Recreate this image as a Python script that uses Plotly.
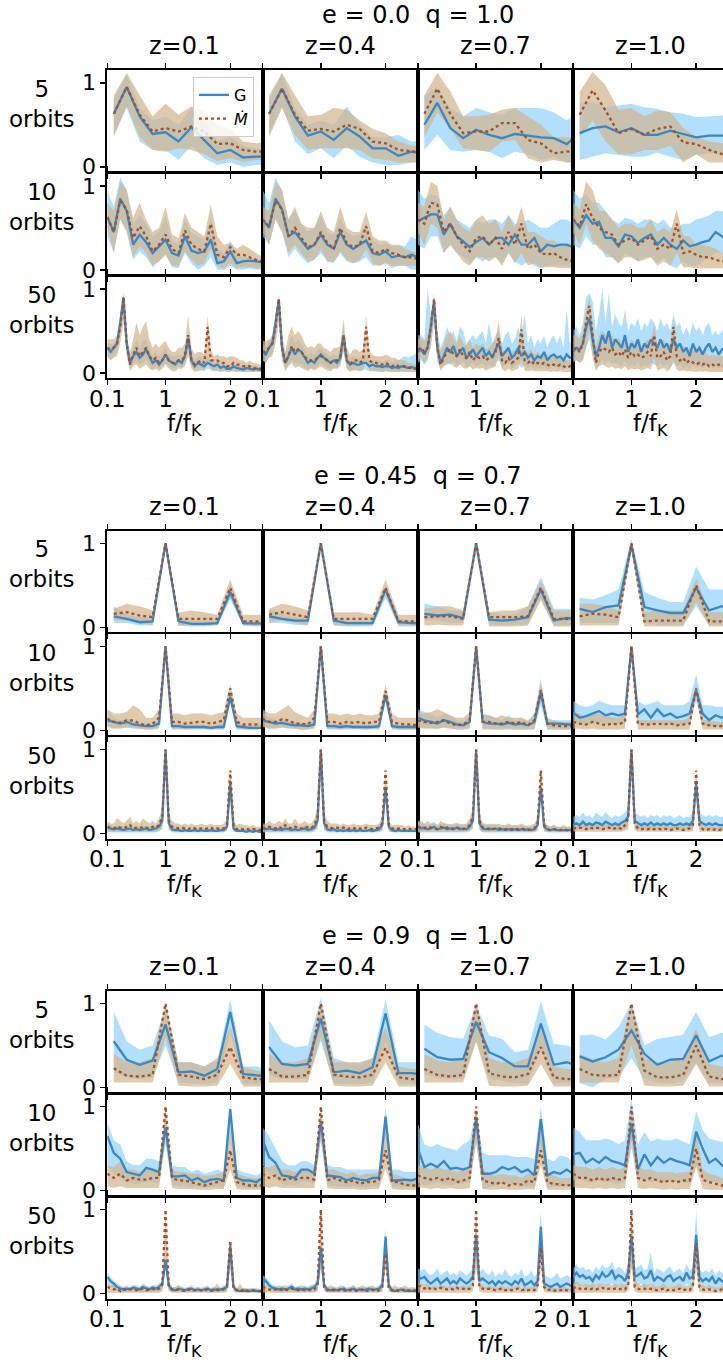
import plotly.graph_objects as go

# ---------------- frequency grids (f / f_K) ----------------
F5 = [0.2, 0.4, 0.6, 0.8, 1.0, 1.2, 1.4, 1.6, 1.8, 2.0, 2.2, 2.4, 2.6]
F10 = [0.1, 0.2, 0.3, 0.4, 0.5, 0.6, 0.7, 0.8, 0.9, 1.0, 1.1, 1.2, 1.3,
       1.4, 1.5, 1.6, 1.7, 1.8, 1.9, 2.0, 2.1, 2.2, 2.3, 2.4, 2.5]
F50 = [0.1, 0.15, 0.2, 0.25, 0.3, 0.35, 0.4, 0.45, 0.5, 0.55,
       0.6, 0.65, 0.7, 0.75, 0.8, 0.85, 0.9, 0.95, 1.0, 1.05,
       1.1, 1.15, 1.2, 1.25, 1.3, 1.35, 1.4, 1.45, 1.5, 1.55,
       1.6, 1.65, 1.7, 1.75, 1.8, 1.85, 1.9, 1.95, 2.0, 2.05,
       2.1, 2.15, 2.2, 2.25, 2.3, 2.35, 2.4, 2.45, 2.5]

BLOCK_TITLES = ["e = 0.0  q = 1.0", "e = 0.45  q = 0.7", "e = 0.9  q = 1.0"]
ROW_LABELS = ["5<br>orbits", "10<br>orbits", "50<br>orbits"]
COL_TITLES = ["z=0.1", "z=0.4", "z=0.7", "z=1.0"]
X_TICKS = [0.1, 1, 2]
X_TICKTEXT = ["0.1", "1", "2"]
Y_TICKS = [0, 1]
Y_TICKTEXT = ["0", "1"]

# =============== e = 0.0, q = 1.0 ===============
# ---- 5 orbits ----
E00_5_Z1_G = [.63, .95, .60, .39, .41, .30, .47, .32, .16, .20, .11, .12, .12]
E00_5_Z1_GLO = [.40, .70, .30, .20, .20, .08, .25, .10, .02, .05, .00, .02, .02]
E00_5_Z1_GHI = [.80, 1.10, .70, .55, .60, .50, .70, .55, .30, .35, .25, .22, .22]
E00_5_Z1_M = [.63, .95, .62, .42, .46, .42, .48, .42, .27, .28, .20, .18, .18]
E00_5_Z1_MLO = [.35, .72, .35, .20, .18, .22, .20, .15, .07, .10, .06, .08, .08]
E00_5_Z1_MHI = [.85, 1.12, .85, .60, .75, .62, .72, .65, .50, .45, .30, .28, .30]

E00_5_Z4_G = [.63, .93, .60, .37, .42, .32, .46, .36, .22, .22, .13, .18, .15]
E00_5_Z4_GLO = [.40, .72, .30, .15, .22, .10, .25, .12, .05, .02, .02, .05, .05]
E00_5_Z4_GHI = [.80, 1.10, .70, .50, .55, .50, .72, .50, .35, .35, .38, .30, .30]
E00_5_Z4_M = [.63, .93, .62, .43, .45, .42, .50, .45, .30, .28, .20, .18, .17]
E00_5_Z4_MLO = [.35, .70, .38, .20, .22, .22, .22, .20, .10, .08, .05, .05, .05]
E00_5_Z4_MHI = [.85, 1.12, .85, .60, .62, .70, .68, .55, .45, .40, .30, .25, .25]

E00_5_Z7_G = [.50, .76, .46, .34, .44, .38, .34, .39, .37, .35, .34, .27, .40]
E00_5_Z7_GLO = [.20, .38, .20, .18, .20, .18, .10, .18, .15, .08, .12, .05, .08]
E00_5_Z7_GHI = [.85, .95, .70, .60, .70, .65, .62, .70, .70, .70, .65, .55, .68]
E00_5_Z7_M = [.63, .93, .63, .40, .42, .42, .52, .52, .32, .28, .16, .18, .20]
E00_5_Z7_MLO = [.35, .65, .45, .22, .20, .18, .30, .32, .10, .05, .08, .05, .05]
E00_5_Z7_MHI = [.85, 1.12, .90, .60, .60, .62, .68, .70, .60, .50, .35, .35, .35]

E00_5_Z10_G = [.40, .46, .48, .41, .46, .38, .38, .43, .39, .35, .37, .37, .37]
E00_5_Z10_GLO = [.08, .12, .16, .14, .12, .12, .17, .12, .08, .14, .16, .14, .14]
E00_5_Z10_GHI = [.75, .77, .71, .73, .75, .71, .69, .65, .63, .59, .60, .61, .61]
E00_5_Z10_M = [.62, .91, .67, .40, .45, .38, .45, .48, .29, .27, .20, .15, .15]
E00_5_Z10_MLO = [.35, .55, .30, .15, .15, .20, .20, .25, .05, .15, .05, .05, .05]
E00_5_Z10_MHI = [.89, 1.13, .97, .68, .70, .60, .67, .65, .46, .36, .30, .28, .28]

# ---- 10 orbits ----
E00_10_Z1_G = [.63, .45, .85, .70, .30, .42, .33, .20, .28, .36, .20, .17, .40,
               .23, .20, .22, .36, .08, .10, .22, .08, .10, .11, .10, .09]
E00_10_Z1_GLO = [.40, .20, .62, .45, .12, .22, .15, .03, .10, .18, .03, .02, .20,
                 .08, .00, .05, .15, .00, .00, .05, .00, .00, .02, .00, .00]
E00_10_Z1_GHI = [.95, .75, 1.10, .95, .55, .65, .55, .40, .45, .65, .35, .30, .60,
                 .45, .40, .35, .62, .25, .20, .35, .20, .15, .15, .12, .12]
E00_10_Z1_M = [.63, .45, .82, .72, .38, .52, .40, .22, .30, .42, .25, .20, .47,
               .30, .25, .22, .55, .18, .15, .27, .18, .18, .15, .12, .10]
E00_10_Z1_MLO = [.50, .20, .60, .45, .15, .28, .20, .05, .10, .18, .05, .05, .22,
                 .12, .05, .08, .25, .05, .02, .08, .02, .03, .03, .02, .02]
E00_10_Z1_MHI = [.80, .70, 1.05, .95, .62, .80, .60, .45, .50, .75, .42, .38, .68,
                 .50, .45, .40, .78, .40, .30, .32, .25, .30, .25, .20, .15]

E00_10_Z4_G = [.60, .50, .85, .72, .40, .45, .35, .25, .30, .42, .30, .25, .45,
               .30, .25, .30, .35, .20, .18, .22, .15, .17, .15, .18, .15]
E00_10_Z4_GLO = [.40, .30, .60, .45, .15, .25, .15, .08, .12, .20, .10, .08, .20,
                 .10, .08, .10, .15, .05, .05, .08, .02, .05, .05, .00, .00]
E00_10_Z4_GHI = [.95, .80, 1.10, .95, .60, .70, .55, .45, .50, .65, .45, .42, .62,
                 .45, .40, .42, .55, .35, .30, .32, .28, .30, .28, .40, .35]
E00_10_Z4_M = [.60, .52, .82, .72, .40, .50, .38, .27, .30, .45, .32, .25, .50,
               .32, .27, .30, .52, .22, .20, .25, .20, .18, .15, .15, .13]
E00_10_Z4_MLO = [.45, .30, .60, .45, .20, .30, .20, .10, .12, .25, .10, .10, .22,
                 .12, .08, .12, .25, .08, .05, .08, .05, .05, .05, .05, .05]
E00_10_Z4_MHI = [.75, .70, 1.05, .95, .60, .75, .55, .50, .50, .70, .50, .45, .75,
                 .50, .45, .45, .70, .40, .35, .35, .30, .30, .25, .22, .20]

E00_10_Z7_G = [.58, .62, .66, .66, .42, .55, .40, .34, .27, .33, .38, .30, .38,
               .38, .30, .42, .30, .30, .38, .22, .30, .28, .30, .30, .27]
E00_10_Z7_GLO = [.30, .25, .40, .40, .20, .30, .20, .15, .08, .15, .10, .15, .15,
                 .08, .20, .10, .05, .10, .05, .02, .05, .05, .05, .05, .05]
E00_10_Z7_GHI = [.95, .85, .90, .88, .65, .75, .60, .55, .50, .60, .55, .60, .60,
                 .55, .65, .55, .55, .60, .55, .50, .50, .55, .60, .60, .55]
E00_10_Z7_M = [.60, .55, .80, .78, .45, .55, .40, .30, .22, .38, .40, .30, .38,
               .25, .45, .30, .55, .25, .30, .20, .18, .20, .15, .12, .10]
E00_10_Z7_MLO = [.45, .30, .55, .50, .20, .30, .20, .10, .05, .15, .15, .10, .15,
                 .05, .20, .08, .20, .05, .08, .03, .03, .03, .02, .02, .02]
E00_10_Z7_MHI = [.80, .75, 1.05, 1.00, .60, .75, .60, .50, .45, .60, .65, .55, .60,
                 .45, .65, .50, .75, .45, .45, .40, .35, .35, .30, .30, .25]

E00_10_Z10_G = [.60, .50, .65, .55, .57, .38, .38, .28, .42, .40, .32, .38, .42,
                .30, .38, .30, .25, .35, .28, .30, .33, .35, .45, .40, .35]
E00_10_Z10_GLO = [.30, .25, .40, .30, .30, .15, .15, .08, .20, .15, .10, .15, .15,
                  .08, .15, .05, .02, .10, .05, .05, .10, .15, .20, .20, .15]
E00_10_Z10_GHI = [.95, .85, .90, .80, .80, .70, .60, .55, .62, .60, .55, .60, .60,
                  .55, .60, .50, .50, .55, .55, .60, .62, .65, .70, .70, .65]
E00_10_Z10_M = [.60, .52, .78, .62, .50, .45, .42, .30, .35, .38, .30, .35, .40,
                .25, .30, .25, .55, .20, .22, .18, .15, .15, .12, .10, .10]
E00_10_Z10_MLO = [.45, .30, .55, .35, .25, .20, .15, .08, .15, .15, .10, .12, .15,
                  .05, .10, .05, .20, .03, .03, .02, .02, .02, .02, .02, .02]
E00_10_Z10_MHI = [.80, .72, 1.05, .95, .70, .70, .60, .50, .55, .55, .50, .50, .60,
                  .45, .50, .45, .72, .40, .40, .30, .30, .28, .25, .20, .20]

# ---- 50 orbits ----
E00_50_Z1_G = [.30, .25, .30, .35, .60, .90, .35, .12, .20, .25,
               .18, .22, .28, .20, .12, .15, .10, .15, .22, .15,
               .12, .10, .15, .12, .20, .42, .15, .08, .12, .10,
               .08, .12, .10, .08, .10, .06, .08, .05, .05, .08,
               .06, .05, .04, .06, .05, .04, .05, .04, .04]
E00_50_Z1_GLO = [.20, .15, .20, .25, .45, .75, .25, .05, .10, .15,
                 .10, .12, .15, .10, .05, .08, .05, .08, .12, .08,
                 .05, .05, .08, .06, .12, .30, .08, .03, .05, .05,
                 .03, .05, .04, .03, .04, .02, .03, .02, .02, .03,
                 .02, .02, .01, .02, .02, .01, .02, .01, .01]
E00_50_Z1_GHI = [.35, .35, .35, .40, .70, .97, .42, .20, .30, .40,
                 .30, .38, .40, .30, .20, .25, .20, .25, .30, .22,
                 .20, .20, .22, .20, .28, .50, .22, .15, .20, .18,
                 .15, .20, .15, .12, .15, .10, .12, .10, .10, .12,
                 .10, .08, .08, .10, .08, .08, .08, .07, .07]
E00_50_Z1_M = [.30, .28, .30, .35, .55, .90, .35, .10, .22, .30,
               .20, .25, .30, .20, .15, .18, .12, .15, .22, .15,
               .12, .12, .15, .15, .20, .45, .15, .10, .12, .15,
               .12, .55, .15, .15, .15, .12, .12, .08, .08, .12,
               .10, .10, .08, .08, .08, .05, .06, .05, .05]
E00_50_Z1_MLO = [.20, .15, .18, .20, .35, .60, .20, .02, .08, .10,
                 .05, .08, .10, .05, .03, .05, .02, .05, .10, .05,
                 .02, .02, .05, .05, .08, .20, .05, .01, .02, .03,
                 .02, .15, .03, .02, .02, .01, .02, .01, .01, .02,
                 .01, .01, .01, .01, .01, .01, .01, .01, .01]
E00_50_Z1_MHI = [.40, .40, .40, .45, .70, .92, .45, .25, .40, .60,
                 .45, .55, .62, .40, .30, .35, .30, .35, .38, .30,
                 .25, .25, .30, .30, .35, .68, .30, .22, .25, .25,
                 .22, .68, .28, .20, .22, .20, .20, .18, .20, .20,
                 .18, .15, .15, .12, .15, .12, .12, .10, .10]

E00_50_Z4_G = [.25, .22, .30, .35, .60, .88, .30, .12, .20, .30,
               .22, .28, .25, .18, .12, .15, .12, .18, .22, .18,
               .15, .12, .15, .12, .18, .45, .15, .10, .12, .10,
               .10, .12, .12, .08, .10, .08, .08, .07, .08, .08,
               .06, .07, .06, .08, .07, .06, .07, .06, .06]
E00_50_Z4_GLO = [.15, .12, .18, .22, .40, .70, .18, .05, .10, .15,
                 .10, .12, .10, .06, .04, .06, .05, .08, .12, .08,
                 .06, .05, .06, .05, .10, .30, .06, .03, .04, .04,
                 .03, .04, .04, .02, .03, .02, .02, .01, .02, .02,
                 .01, .02, .01, .02, .02, .01, .02, .01, .01]
E00_50_Z4_GHI = [.35, .32, .38, .42, .70, .92, .40, .22, .32, .45,
                 .35, .40, .35, .28, .22, .25, .22, .28, .30, .25,
                 .22, .20, .22, .20, .28, .52, .22, .18, .20, .18,
                 .18, .20, .20, .15, .15, .15, .15, .12, .15, .15,
                 .12, .15, .15, .18, .20, .18, .20, .22, .25]
E00_50_Z4_M = [.25, .25, .30, .35, .55, .88, .30, .12, .20, .32,
               .25, .28, .25, .20, .15, .15, .15, .18, .20, .18,
               .15, .12, .15, .15, .20, .45, .15, .10, .15, .15,
               .12, .15, .55, .15, .12, .12, .10, .10, .12, .10,
               .08, .10, .08, .08, .08, .06, .06, .05, .05]
E00_50_Z4_MLO = [.15, .12, .18, .20, .35, .60, .15, .02, .08, .12,
                 .06, .08, .06, .04, .02, .05, .03, .05, .08, .05,
                 .03, .02, .05, .05, .08, .25, .05, .01, .03, .03,
                 .02, .03, .15, .02, .02, .02, .01, .01, .02, .01,
                 .01, .01, .01, .01, .01, .01, .01, .01, .01]
E00_50_Z4_MHI = [.38, .38, .40, .45, .68, .90, .45, .25, .45, .55,
                 .45, .50, .45, .35, .30, .32, .30, .35, .35, .30,
                 .28, .25, .30, .30, .32, .65, .30, .22, .28, .28,
                 .25, .28, .68, .25, .22, .20, .20, .20, .22, .20,
                 .18, .18, .15, .15, .15, .12, .12, .10, .10]

E00_50_Z7_G = [.25, .28, .22, .30, .55, .85, .30, .12, .20, .30,
               .25, .32, .20, .25, .30, .18, .22, .28, .20, .25,
               .30, .20, .25, .18, .28, .35, .20, .25, .30, .18,
               .22, .30, .20, .25, .18, .22, .15, .20, .18, .25,
               .15, .20, .22, .18, .20, .15, .22, .18, .20]
E00_50_Z7_GLO = [.12, .15, .10, .15, .35, .65, .15, .05, .08, .12,
                 .10, .15, .08, .10, .15, .06, .08, .12, .08, .10,
                 .12, .06, .10, .06, .12, .15, .06, .10, .12, .05,
                 .08, .12, .06, .10, .05, .08, .04, .06, .05, .08,
                 .04, .06, .08, .05, .06, .04, .08, .05, .06]
E00_50_Z7_GHI = [.45, .45, .40, 1.00, .70, .95, .50, .30, .40, .55,
                 .45, .50, .38, .55, .50, .35, .40, .45, .40, .45,
                 .50, .35, .60, .35, .45, .50, .35, .45, .50, .35,
                 .40, .55, .40, .70, .35, .45, .30, .40, .35, .45,
                 .30, .40, .45, .35, .45, .30, .75, .35, .40]
E00_50_Z7_M = [.28, .30, .25, .30, .55, .88, .30, .10, .18, .25,
               .28, .22, .20, .28, .20, .18, .25, .15, .20, .18,
               .20, .15, .18, .20, .25, .42, .15, .12, .18, .12,
               .15, .18, .52, .15, .12, .15, .10, .12, .10, .12,
               .10, .08, .10, .08, .10, .08, .06, .08, .06]
E00_50_Z7_MLO = [.15, .18, .12, .18, .30, .60, .15, .02, .08, .10,
                 .12, .08, .06, .10, .06, .05, .08, .04, .06, .05,
                 .06, .03, .05, .06, .08, .20, .04, .02, .05, .02,
                 .03, .05, .15, .03, .02, .03, .02, .02, .02, .02,
                 .02, .01, .02, .01, .02, .01, .01, .01, .01]
E00_50_Z7_MHI = [.40, .42, .38, .45, .70, .92, .45, .25, .35, .45,
                 .50, .40, .35, .45, .35, .32, .40, .30, .35, .32,
                 .35, .28, .30, .35, .40, .62, .28, .25, .30, .25,
                 .28, .30, .68, .28, .25, .28, .22, .25, .22, .25,
                 .20, .18, .20, .18, .20, .18, .15, .15, .12]

E00_50_Z10_G = [.25, .30, .28, .35, .55, .65, .40, .20, .30, .45,
                .35, .50, .30, .40, .35, .30, .45, .25, .35, .30,
                .40, .25, .35, .30, .40, .35, .30, .40, .30, .35,
                .25, .40, .30, .35, .25, .30, .20, .35, .25, .30,
                .22, .30, .35, .25, .30, .22, .28, .30, .25]
E00_50_Z10_GLO = [.12, .15, .12, .15, .30, .40, .20, .05, .10, .15,
                  .10, .15, .10, .12, .10, .08, .15, .06, .10, .08,
                  .12, .06, .10, .08, .12, .10, .08, .12, .08, .10,
                  .06, .12, .08, .10, .05, .08, .05, .10, .06, .08,
                  .05, .08, .10, .05, .08, .05, .08, .06, .05]
E00_50_Z10_GHI = [.50, .55, .45, .60, .90, .95, .85, .50, .70, 1.00,
                  .60, .95, .55, .70, .60, .55, .75, .50, .60, .55,
                  .65, .50, .60, .55, .65, .60, .50, .65, .55, .60,
                  .50, .70, .55, .60, .45, .55, .45, .60, .50, .55,
                  .45, .55, .60, .45, .50, .45, .50, .55, .50]
E00_50_Z10_M = [.28, .30, .25, .35, .60, .80, .45, .12, .25, .30,
                .28, .25, .30, .22, .25, .20, .28, .18, .25, .20,
                .22, .18, .20, .25, .20, .45, .18, .20, .25, .15,
                .20, .55, .20, .15, .18, .12, .15, .12, .10, .12,
                .10, .12, .08, .10, .08, .10, .08, .08, .08]
E00_50_Z10_MLO = [.15, .15, .12, .15, .30, .50, .20, .02, .08, .10,
                  .08, .06, .08, .05, .06, .04, .08, .03, .05, .04,
                  .05, .03, .04, .06, .04, .18, .03, .04, .06, .02,
                  .04, .15, .04, .02, .03, .02, .02, .02, .01, .02,
                  .01, .02, .01, .01, .01, .01, .01, .01, .01]
E00_50_Z10_MHI = [.45, .45, .40, .50, .75, .90, .60, .30, .45, .50,
                  .45, .42, .45, .38, .42, .35, .45, .32, .40, .35,
                  .38, .32, .35, .40, .35, .60, .32, .35, .40, .30,
                  .35, .60, .35, .30, .32, .28, .30, .28, .25, .28,
                  .25, .25, .20, .22, .20, .22, .20, .20, .20]

# =============== e = 0.45, q = 0.7 ===============
# ---- 5 orbits ----
E45_5_Z1_G = [.13, .10, .06, .07, 1.0, .07, .04, .04, .05, .42, .05, .04, .04]
E45_5_Z1_GLO = [.05, .05, .02, .02, .97, .02, .01, .01, .02, .33, .02, .01, .01]
E45_5_Z1_GHI = [.25, .15, .12, .12, 1.0, .10, .08, .08, .08, .50, .08, .06, .06]
E45_5_Z1_M = [.16, .18, .14, .12, 1.0, .10, .10, .10, .10, .47, .07, .07, .07]
E45_5_Z1_MLO = [.08, .08, .05, .03, .98, .02, .02, .02, .03, .35, .02, .02, .02]
E45_5_Z1_MHI = [.22, .28, .25, .20, 1.0, .18, .20, .18, .15, .57, .15, .15, .15]

E45_5_Z4_G = [.13, .10, .08, .08, 1.0, .08, .05, .05, .05, .45, .06, .05, .05]
E45_5_Z4_GLO = [.05, .05, .03, .02, .97, .02, .01, .01, .01, .35, .01, .01, .01]
E45_5_Z4_GHI = [.22, .15, .12, .12, 1.0, .12, .08, .08, .08, .50, .10, .08, .08]
E45_5_Z4_M = [.15, .18, .15, .12, 1.0, .10, .10, .10, .10, .47, .07, .07, .07]
E45_5_Z4_MLO = [.06, .08, .05, .03, .98, .02, .02, .02, .03, .38, .02, .02, .02]
E45_5_Z4_MHI = [.22, .28, .25, .20, 1.0, .18, .18, .18, .15, .57, .15, .15, .15]

E45_5_Z7_G = [.16, .14, .15, .11, 1.0, .09, .08, .09, .12, .45, .08, .11, .10]
E45_5_Z7_GLO = [.08, .08, .05, .05, .97, .03, .03, .03, .03, .35, .02, .03, .03]
E45_5_Z7_GHI = [.28, .25, .20, .20, 1.0, .18, .15, .15, .25, .60, .22, .22, .20]
E45_5_Z7_M = [.12, .13, .13, .10, 1.0, .12, .12, .12, .13, .47, .10, .10, .10]
E45_5_Z7_MLO = [.02, .03, .02, .02, .98, .01, .01, .01, .02, .32, .01, .01, .01]
E45_5_Z7_MHI = [.22, .25, .25, .20, 1.0, .18, .20, .20, .25, .55, .20, .20, .20]

E45_5_Z10_G = [.22, .18, .24, .26, .98, .24, .20, .17, .17, .47, .20, .25, .22]
E45_5_Z10_GLO = [.05, .05, .05, .05, .90, .05, .03, .03, .03, .25, .03, .03, .03]
E45_5_Z10_GHI = [.35, .33, .38, .45, 1.05, .42, .35, .30, .30, .72, .45, .45, .40]
E45_5_Z10_M = [.13, .16, .15, .12, 1.0, .07, .08, .08, .08, .50, .07, .07, .07]
E45_5_Z10_MLO = [.02, .02, .02, .02, .96, .01, .01, .01, .01, .30, .01, .01, .01]
E45_5_Z10_MHI = [.28, .28, .25, .20, 1.02, .18, .20, .20, .20, .58, .18, .18, .18]

# ---- 10 orbits ----
E45_10_Z1_G = [.12, .10, .08, .10, .07, .06, .05, .05, .08, 1.0, .05, .05, .04,
               .04, .04, .04, .03, .04, .04, .40, .05, .04, .03, .03, .03]
E45_10_Z1_GLO = [.05, .03, .03, .04, .02, .02, .01, .01, .03, .98, .01, .01, .01,
                 .01, .01, .01, .01, .01, .01, .33, .01, .01, .01, .01, .01]
E45_10_Z1_GHI = [.25, .15, .12, .15, .10, .10, .08, .08, .12, 1.0, .08, .08, .07,
                 .07, .07, .07, .06, .07, .08, .48, .08, .06, .06, .06, .06]
E45_10_Z1_M = [.14, .10, .09, .12, .12, .08, .06, .08, .15, 1.0, .10, .10, .08,
               .09, .10, .10, .08, .10, .12, .50, .10, .07, .07, .07, .06]
E45_10_Z1_MLO = [.04, .02, .02, .03, .03, .02, .01, .01, .02, .98, .02, .02, .01,
                 .02, .02, .02, .01, .02, .02, .42, .02, .01, .01, .01, .01]
E45_10_Z1_MHI = [.25, .20, .20, .22, .30, .25, .15, .15, .25, 1.0, .20, .20, .18,
                 .20, .20, .20, .18, .20, .22, .55, .20, .15, .15, .15, .15]

E45_10_Z4_G = [.12, .10, .08, .09, .07, .06, .06, .05, .07, 1.0, .05, .05, .04,
               .05, .04, .04, .04, .04, .05, .42, .05, .04, .04, .04, .04]
E45_10_Z4_GLO = [.05, .03, .03, .04, .02, .02, .01, .01, .03, .98, .01, .01, .01,
                 .01, .01, .01, .01, .01, .01, .34, .01, .01, .01, .01, .01]
E45_10_Z4_GHI = [.22, .15, .12, .15, .10, .10, .09, .08, .12, 1.0, .08, .08, .07,
                 .08, .07, .07, .06, .07, .08, .48, .08, .07, .06, .06, .06]
E45_10_Z4_M = [.14, .10, .10, .13, .12, .08, .08, .07, .15, 1.0, .10, .10, .08,
               .10, .09, .10, .08, .10, .10, .47, .10, .08, .07, .07, .06]
E45_10_Z4_MLO = [.04, .02, .02, .03, .03, .02, .01, .01, .02, .98, .02, .02, .01,
                 .02, .02, .02, .01, .02, .02, .40, .02, .01, .01, .01, .01]
E45_10_Z4_MHI = [.25, .20, .20, .25, .30, .22, .18, .15, .25, 1.0, .20, .20, .18,
                 .20, .18, .20, .18, .18, .20, .55, .20, .15, .15, .15, .15]

E45_10_Z7_G = [.15, .12, .10, .08, .12, .10, .07, .06, .10, 1.0, .10, .08, .08,
               .07, .09, .07, .08, .06, .10, .45, .08, .08, .08, .07, .07]
E45_10_Z7_GLO = [.05, .03, .03, .02, .04, .03, .01, .01, .03, .97, .02, .02, .01,
                 .01, .02, .01, .01, .01, .02, .30, .01, .01, .01, .01, .01]
E45_10_Z7_GHI = [.25, .22, .20, .15, .20, .18, .12, .10, .18, 1.0, .20, .18, .15,
                 .12, .18, .12, .15, .10, .20, .62, .15, .12, .12, .12, .12]
E45_10_Z7_M = [.12, .10, .09, .10, .12, .08, .06, .07, .12, 1.0, .10, .10, .08,
               .08, .10, .08, .10, .06, .12, .48, .08, .06, .05, .05, .05]
E45_10_Z7_MLO = [.03, .02, .02, .02, .03, .02, .01, .01, .02, .98, .01, .01, .01,
                 .01, .01, .01, .01, .01, .01, .38, .01, .01, .01, .01, .01]
E45_10_Z7_MHI = [.22, .20, .22, .25, .22, .18, .15, .15, .22, 1.0, .18, .18, .15,
                 .18, .15, .15, .15, .12, .20, .55, .12, .12, .10, .10, .10]

E45_10_Z10_G = [.21, .15, .17, .20, .23, .18, .20, .18, .20, 1.0, .19, .25, .15,
                .25, .17, .20, .15, .17, .20, .48, .20, .12, .18, .15, .16]
E45_10_Z10_GLO = [.08, .06, .06, .08, .10, .08, .08, .08, .08, .97, .06, .08, .06,
                  .10, .06, .08, .05, .06, .08, .35, .06, .05, .05, .05, .05]
E45_10_Z10_GHI = [.35, .30, .28, .30, .35, .32, .30, .30, .30, 1.0, .35, .30, .32,
                  .35, .30, .30, .30, .30, .35, .67, .30, .30, .28, .28, .28]
E45_10_Z10_M = [.10, .08, .07, .10, .08, .06, .08, .07, .10, 1.0, .08, .07, .07,
                .08, .07, .08, .06, .07, .08, .50, .08, .06, .05, .05, .05]
E45_10_Z10_MLO = [.02, .02, .01, .02, .01, .01, .01, .01, .02, .98, .01, .01, .01,
                  .01, .01, .01, .01, .01, .01, .40, .01, .01, .01, .01, .01]
E45_10_Z10_MHI = [.22, .20, .15, .20, .20, .18, .15, .15, .20, 1.0, .12, .12, .12,
                  .12, .12, .12, .12, .12, .15, .55, .12, .12, .10, .10, .10]

# ---- 50 orbits ----
E45_50_LO_M = [.02, .02, .02, .02, .02, .02, .02, .02, .02, .02,
               .02, .02, .02, .02, .02, .02, .03, .05, .98, .04,
               .02, .02, .02, .02, .02, .02, .02, .02, .02, .02,
               .02, .02, .02, .02, .02, .02, .02, .03, .55, .02,
               .02, .02, .02, .02, .02, .02, .02, .02, .02]
E45_50_LO_G = [.01, .01, .01, .01, .01, .01, .01, .01, .01, .01,
               .01, .01, .01, .01, .01, .01, .02, .08, .97, .06,
               .01, .01, .01, .01, .01, .01, .01, .01, .01, .01,
               .01, .01, .01, .01, .01, .01, .01, .04, .45, .03,
               .01, .01, .01, .01, .01, .01, .01, .01, .01]

E45_50_Z1_G = [.07, .06, .05, .06, .05, .04, .05, .06, .04, .05,
               .04, .05, .06, .04, .05, .06, .08, .15, 1.0, .12,
               .05, .04, .04, .03, .04, .03, .03, .04, .03, .04,
               .03, .03, .04, .03, .03, .04, .04, .08, .60, .06,
               .03, .03, .03, .02, .03, .02, .03, .02, .02]
E45_50_Z1_GHI = [.12, .10, .08, .10, .08, .07, .08, .10, .07, .08,
                 .07, .08, .09, .07, .08, .09, .12, .22, 1.0, .18,
                 .08, .07, .06, .05, .06, .05, .05, .06, .05, .06,
                 .05, .05, .06, .05, .05, .06, .06, .12, .70, .10,
                 .05, .05, .05, .04, .05, .04, .05, .04, .04]
E45_50_Z1_M = [.08, .07, .06, .08, .07, .06, .08, .10, .06, .07,
               .06, .08, .07, .06, .08, .07, .10, .20, 1.0, .15,
               .08, .07, .06, .07, .06, .05, .07, .06, .05, .06,
               .05, .06, .07, .05, .06, .05, .06, .10, .75, .08,
               .05, .06, .05, .06, .04, .05, .05, .04, .05]
E45_50_Z1_MHI = [.15, .12, .12, .18, .15, .12, .15, .20, .12, .15,
                 .12, .18, .15, .12, .15, .12, .18, .30, 1.0, .25,
                 .15, .12, .12, .10, .12, .10, .12, .10, .10, .12,
                 .10, .10, .12, .10, .10, .10, .12, .18, .78, .15,
                 .10, .12, .10, .10, .08, .10, .08, .08, .08]

E45_50_Z4_G = [.06, .05, .06, .05, .04, .05, .04, .06, .05, .04,
               .05, .04, .05, .06, .04, .05, .07, .15, 1.0, .12,
               .05, .04, .05, .03, .04, .03, .04, .03, .04, .03,
               .04, .03, .03, .04, .03, .04, .05, .10, .55, .08,
               .04, .03, .04, .03, .03, .03, .03, .03, .03]
E45_50_Z4_GHI = [.10, .09, .10, .08, .07, .08, .07, .10, .08, .07,
                 .08, .07, .08, .10, .07, .08, .10, .20, 1.0, .18,
                 .08, .07, .08, .05, .07, .05, .06, .05, .06, .05,
                 .06, .05, .05, .06, .05, .06, .08, .15, .65, .12,
                 .06, .05, .06, .05, .05, .05, .05, .05, .05]
E45_50_Z4_M = [.07, .06, .08, .07, .06, .08, .06, .10, .07, .06,
               .08, .07, .06, .08, .07, .06, .10, .20, 1.0, .15,
               .08, .07, .06, .07, .06, .07, .05, .06, .07, .05,
               .06, .05, .07, .06, .05, .06, .07, .12, .75, .10,
               .06, .05, .06, .05, .05, .06, .05, .05, .05]
E45_50_Z4_MHI = [.12, .12, .15, .12, .12, .15, .12, .18, .12, .12,
                 .18, .12, .12, .15, .12, .12, .18, .30, 1.0, .25,
                 .15, .12, .12, .12, .10, .12, .10, .10, .12, .10,
                 .10, .10, .12, .10, .10, .10, .12, .20, .78, .15,
                 .10, .10, .10, .10, .08, .10, .08, .08, .08]

E45_50_Z7_G = [.08, .06, .07, .05, .06, .08, .05, .06, .07, .05,
               .06, .05, .07, .05, .06, .05, .08, .15, 1.0, .12,
               .06, .05, .06, .05, .06, .04, .05, .04, .05, .04,
               .05, .04, .05, .04, .05, .04, .05, .10, .55, .08,
               .05, .04, .05, .04, .04, .04, .04, .04, .04]
E45_50_Z7_GHI = [.14, .12, .12, .10, .12, .14, .10, .12, .13, .10,
                 .12, .10, .13, .10, .12, .10, .14, .22, 1.0, .18,
                 .12, .10, .12, .10, .12, .08, .10, .08, .10, .08,
                 .10, .08, .10, .08, .10, .08, .10, .15, .62, .12,
                 .10, .08, .10, .08, .08, .08, .08, .08, .08]
E45_50_Z7_M = [.08, .07, .06, .08, .07, .06, .05, .08, .06, .07,
               .05, .06, .07, .06, .05, .06, .10, .20, 1.0, .15,
               .07, .06, .05, .06, .05, .06, .05, .05, .06, .05,
               .05, .05, .06, .05, .04, .05, .06, .12, .75, .10,
               .05, .04, .05, .04, .04, .05, .04, .04, .04]
E45_50_Z7_MHI = [.15, .15, .12, .15, .12, .12, .10, .15, .12, .12,
                 .10, .12, .12, .12, .10, .12, .18, .30, 1.0, .25,
                 .12, .12, .10, .12, .10, .12, .10, .10, .12, .10,
                 .10, .10, .12, .10, .08, .10, .12, .20, .78, .15,
                 .10, .08, .10, .08, .08, .10, .08, .08, .08]

E45_50_Z10_G = [.10, .12, .10, .14, .10, .12, .10, .13, .12, .10,
                .14, .12, .10, .12, .10, .13, .15, .20, 1.0, .15,
                .12, .10, .12, .10, .13, .10, .12, .10, .12, .10,
                .12, .10, .10, .12, .10, .12, .10, .15, .60, .15,
                .12, .10, .12, .10, .12, .10, .10, .12, .10]
E45_50_Z10_GLO = [.04, .05, .04, .06, .04, .05, .04, .05, .05, .04,
                  .06, .05, .04, .05, .04, .05, .06, .10, .97, .06,
                  .05, .04, .05, .04, .05, .04, .05, .04, .05, .04,
                  .05, .04, .04, .05, .04, .05, .04, .06, .45, .06,
                  .05, .04, .05, .04, .05, .04, .04, .05, .04]
E45_50_Z10_GHI = [.20, .22, .20, .25, .20, .22, .18, .25, .22, .20,
                  .25, .22, .18, .22, .20, .22, .25, .30, 1.0, .25,
                  .22, .20, .22, .18, .22, .20, .22, .18, .22, .20,
                  .22, .18, .20, .22, .18, .20, .20, .25, .65, .25,
                  .22, .20, .22, .20, .22, .20, .20, .22, .20]
E45_50_Z10_M = [.07, .06, .07, .06, .05, .07, .06, .07, .06, .05,
                .06, .07, .05, .06, .07, .05, .10, .18, 1.0, .12,
                .06, .05, .06, .05, .06, .05, .06, .05, .06, .05,
                .04, .05, .06, .05, .04, .05, .06, .10, .75, .10,
                .05, .04, .05, .04, .05, .04, .05, .04, .04]
E45_50_Z10_MHI = [.12, .12, .10, .12, .10, .12, .10, .12, .10, .10,
                  .12, .12, .10, .12, .12, .10, .15, .25, 1.0, .20,
                  .12, .10, .12, .10, .10, .10, .10, .10, .10, .10,
                  .08, .10, .10, .10, .08, .10, .10, .15, .78, .15,
                  .10, .08, .10, .08, .08, .08, .08, .08, .08]

# =============== e = 0.9, q = 1.0 ===============
# ---- 5 orbits ----
E90_5_Z1_G = [.55, .33, .27, .32, .75, .18, .19, .14, .22, .90, .16, .14, .13]
E90_5_Z1_GLO = [.18, .12, .10, .12, .50, .06, .05, .04, .06, .65, .05, .04, .04]
E90_5_Z1_GHI = [.90, .55, .45, .50, .95, .30, .30, .25, .32, 1.05, .25, .25, .22]
E90_5_Z1_M = [.23, .14, .13, .15, 1.0, .15, .13, .10, .15, .48, .12, .10, .10]
E90_5_Z1_MLO = [.06, .06, .06, .06, .60, .02, .01, .01, .02, .28, .01, .01, .01]
E90_5_Z1_MHI = [.40, .30, .30, .35, 1.0, .30, .30, .25, .35, .72, .25, .20, .20]

E90_5_Z4_G = [.48, .28, .26, .28, .82, .18, .20, .17, .24, .88, .17, .17, .15]
E90_5_Z4_GLO = [.15, .10, .10, .10, .55, .05, .04, .04, .05, .55, .04, .04, .04]
E90_5_Z4_GHI = [.80, .55, .48, .50, 1.07, .35, .30, .28, .35, 1.05, .30, .30, .30]
E90_5_Z4_M = [.22, .13, .13, .15, 1.0, .15, .13, .12, .15, .47, .12, .10, .10]
E90_5_Z4_MLO = [.06, .06, .06, .06, .60, .02, .01, .01, .02, .30, .01, .01, .01]
E90_5_Z4_MHI = [.40, .30, .30, .35, 1.0, .30, .30, .30, .35, .72, .25, .22, .22]

E90_5_Z7_G = [.46, .36, .33, .34, .78, .42, .35, .25, .25, .76, .27, .30, .25]
E90_5_Z7_GLO = [.15, .12, .10, .10, .55, .10, .08, .05, .05, .45, .05, .05, .05]
E90_5_Z7_GHI = [.75, .65, .60, .58, .98, .62, .58, .42, .45, 1.02, .52, .50, .45]
E90_5_Z7_M = [.22, .15, .13, .15, 1.0, .17, .13, .12, .16, .48, .12, .10, .10]
E90_5_Z7_MLO = [.06, .06, .06, .06, .55, .02, .01, .01, .02, .28, .01, .01, .01]
E90_5_Z7_MHI = [.40, .32, .30, .35, 1.0, .35, .30, .30, .35, .72, .25, .22, .22]

E90_5_Z10_G = [.37, .31, .36, .45, .68, .40, .27, .33, .34, .62, .31, .38, .30]
E90_5_Z10_GLO = [.05, .00, .10, .12, .35, .10, .06, .04, .08, .30, .05, .05, .05]
E90_5_Z10_GHI = [.62, .63, .57, .72, 1.0, .50, .58, .60, .63, .90, .60, .65, .60]
E90_5_Z10_M = [.22, .15, .14, .15, 1.0, .20, .12, .12, .15, .50, .13, .10, .10]
E90_5_Z10_MLO = [.06, .06, .06, .06, .50, .02, .01, .01, .02, .28, .01, .01, .01]
E90_5_Z10_MHI = [.40, .33, .30, .35, 1.0, .35, .30, .30, .35, .70, .28, .25, .25]

# ---- 10 orbits ----
E90_10_Z1_G = [.65, .45, .38, .22, .20, .18, .27, .25, .22, .75, .17, .17, .18,
               .12, .15, .10, .13, .14, .12, .97, .15, .12, .12, .10, .15]
E90_10_Z1_GLO = [.30, .20, .15, .10, .08, .08, .10, .10, .08, .55, .06, .05, .06,
                 .04, .05, .03, .04, .05, .04, .70, .05, .04, .03, .03, .04]
E90_10_Z1_GHI = [.82, .60, .55, .35, .30, .30, .38, .38, .35, .90, .30, .28, .28,
                 .22, .25, .20, .22, .25, .22, 1.05, .25, .22, .20, .18, .22]
E90_10_Z1_M = [.20, .15, .20, .12, .15, .13, .13, .15, .15, 1.0, .15, .12, .12,
               .10, .08, .06, .08, .10, .12, .48, .10, .08, .06, .06, .06]
E90_10_Z1_MLO = [.05, .03, .05, .03, .03, .03, .03, .03, .03, .65, .03, .02, .02,
                 .02, .01, .01, .01, .02, .02, .25, .02, .01, .01, .01, .01]
E90_10_Z1_MHI = [.30, .28, .35, .25, .25, .22, .25, .25, .25, 1.0, .25, .22, .22,
                 .20, .20, .18, .18, .20, .22, .72, .20, .18, .15, .15, .15]

E90_10_Z4_G = [.60, .40, .33, .18, .17, .15, .25, .25, .20, .82, .18, .17, .16,
               .12, .15, .13, .12, .15, .15, .88, .12, .12, .13, .12, .15]
E90_10_Z4_GLO = [.30, .20, .15, .08, .07, .06, .10, .10, .08, .60, .06, .05, .05,
                 .04, .05, .04, .04, .05, .05, .65, .04, .04, .04, .04, .04]
E90_10_Z4_GHI = [.75, .65, .50, .35, .30, .30, .35, .35, .30, .92, .30, .28, .28,
                 .25, .25, .25, .25, .25, .25, 1.0, .25, .25, .22, .22, .22]
E90_10_Z4_M = [.20, .15, .18, .12, .15, .13, .15, .15, .13, 1.0, .12, .15, .12,
               .10, .12, .08, .10, .10, .13, .48, .10, .10, .07, .06, .06]
E90_10_Z4_MLO = [.05, .03, .05, .03, .03, .03, .03, .03, .03, .62, .03, .02, .02,
                 .02, .02, .01, .01, .02, .02, .26, .02, .01, .01, .01, .01]
E90_10_Z4_MHI = [.28, .28, .30, .25, .25, .22, .25, .25, .25, 1.0, .25, .25, .22,
                 .20, .22, .18, .20, .20, .22, .72, .20, .18, .15, .15, .15]

E90_10_Z7_G = [.50, .28, .32, .28, .35, .26, .27, .25, .28, .85, .20, .20, .22,
               .28, .25, .28, .22, .25, .18, .85, .18, .22, .20, .25, .20]
E90_10_Z7_GLO = [.10, .06, .08, .10, .08, .06, .08, .08, .10, .55, .02, .04, .06,
                 .08, .06, .08, .05, .05, .04, .55, .03, .05, .05, .06, .05]
E90_10_Z7_GHI = [.80, .55, .52, .55, .52, .50, .48, .55, .60, .95, .45, .42, .42,
                 .42, .42, .40, .40, .40, .38, 1.0, .38, .35, .42, .40, .35]
E90_10_Z7_M = [.18, .15, .13, .15, .12, .15, .10, .12, .15, 1.0, .12, .10, .08,
               .10, .06, .08, .07, .12, .10, .48, .10, .08, .07, .06, .07]
E90_10_Z7_MLO = [.04, .03, .02, .03, .02, .03, .02, .02, .03, .60, .02, .01, .01,
                 .02, .01, .01, .01, .02, .01, .30, .01, .01, .01, .01, .01]
E90_10_Z7_MHI = [.30, .28, .25, .28, .25, .25, .22, .25, .28, 1.0, .25, .20, .18,
                 .20, .18, .18, .15, .20, .20, .72, .20, .18, .15, .15, .15]

E90_10_Z10_G = [.43, .45, .33, .38, .33, .40, .35, .33, .30, .80, .25, .43, .30,
                .40, .33, .38, .35, .33, .30, .70, .50, .33, .38, .30, .25]
E90_10_Z10_GLO = [.12, .15, .10, .10, .12, .10, .10, .08, .10, .50, .12, .15, .10,
                  .12, .10, .12, .10, .10, .08, .30, .15, .10, .10, .08, .05]
E90_10_Z10_GHI = [.75, .70, .60, .60, .60, .62, .60, .55, .60, 1.10, .55, .70, .58,
                  .62, .60, .60, .62, .58, .55, .95, .72, .62, .60, .58, .50]
E90_10_Z10_M = [.20, .15, .15, .12, .15, .12, .15, .13, .15, 1.0, .15, .12, .15,
                .12, .10, .12, .10, .12, .12, .50, .13, .10, .08, .06, .06]
E90_10_Z10_MLO = [.04, .03, .03, .02, .03, .02, .03, .02, .03, .60, .03, .02, .03,
                  .02, .01, .02, .01, .02, .02, .28, .02, .01, .01, .01, .01]
E90_10_Z10_MHI = [.30, .28, .28, .25, .28, .25, .28, .25, .28, 1.0, .28, .25, .25,
                  .22, .22, .22, .20, .22, .22, .72, .25, .20, .18, .15, .15]

# ---- 50 orbits ----
E90_50_LO_M = [.01, .01, .01, .01, .01, .01, .01, .01, .01, .01,
               .01, .01, .01, .01, .01, .01, .01, .03, .30, .03,
               .01, .01, .01, .01, .01, .01, .01, .01, .01, .01,
               .01, .01, .01, .01, .01, .01, .01, .02, .30, .02,
               .01, .01, .01, .01, .01, .01, .01, .01, .01]
E90_50_LO_G = [.12, .10, .06, .03, .02, .02, .02, .02, .02, .02,
               .02, .02, .02, .02, .02, .02, .02, .04, .30, .04,
               .02, .02, .02, .02, .02, .02, .02, .02, .02, .02,
               .02, .02, .02, .02, .02, .02, .02, .04, .40, .04,
               .02, .02, .02, .02, .02, .02, .02, .02, .02]

E90_50_Z1_G = [.20, .15, .12, .08, .06, .05, .06, .05, .07, .06,
               .05, .08, .06, .05, .07, .06, .08, .12, .40, .10,
               .05, .04, .06, .05, .04, .05, .06, .04, .05, .04,
               .05, .06, .04, .05, .04, .05, .06, .08, .57, .08,
               .04, .03, .04, .03, .03, .04, .03, .03, .03]
E90_50_Z1_GHI = [.25, .20, .15, .12, .10, .08, .10, .08, .10, .10,
                 .08, .12, .10, .08, .10, .10, .12, .15, .45, .15,
                 .08, .08, .10, .08, .07, .08, .10, .07, .08, .07,
                 .08, .10, .07, .08, .07, .08, .10, .12, .62, .12,
                 .07, .06, .07, .06, .06, .07, .06, .06, .06]
E90_50_Z1_M = [.08, .06, .05, .06, .03, .05, .04, .05, .06, .04,
               .05, .06, .04, .05, .06, .04, .06, .10, 1.0, .08,
               .05, .04, .05, .04, .03, .05, .04, .04, .05, .04,
               .04, .05, .03, .04, .05, .04, .05, .08, .63, .06,
               .04, .05, .03, .04, .03, .04, .03, .03, .03]
E90_50_Z1_MHI = [.12, .10, .10, .10, .08, .08, .08, .08, .10, .08,
                 .08, .10, .08, .08, .10, .08, .10, .15, 1.0, .12,
                 .08, .08, .10, .08, .06, .08, .08, .06, .08, .06,
                 .08, .08, .06, .08, .12, .06, .08, .12, .65, .10,
                 .06, .12, .06, .06, .06, .06, .06, .05, .05]

E90_50_Z4_G = [.18, .15, .10, .07, .06, .05, .06, .05, .06, .08,
               .05, .06, .05, .06, .05, .06, .08, .12, .55, .10,
               .05, .04, .05, .04, .05, .06, .04, .05, .06, .04,
               .05, .04, .05, .06, .04, .05, .06, .10, .68, .10,
               .04, .03, .04, .05, .03, .04, .03, .04, .03]
E90_50_Z4_GHI = [.22, .20, .15, .10, .10, .08, .10, .08, .10, .12,
                 .08, .10, .08, .10, .08, .10, .12, .18, .60, .15,
                 .08, .07, .08, .07, .08, .10, .07, .08, .10, .07,
                 .08, .07, .08, .10, .07, .08, .10, .15, .78, .15,
                 .07, .06, .07, .08, .06, .07, .06, .07, .06]
E90_50_Z4_M = [.08, .06, .05, .04, .05, .06, .04, .05, .04, .06,
               .05, .04, .05, .04, .05, .04, .05, .10, 1.0, .08,
               .04, .05, .04, .03, .05, .04, .03, .04, .05, .03,
               .04, .05, .03, .04, .05, .03, .04, .08, .48, .06,
               .04, .05, .03, .04, .05, .03, .04, .03, .04]
E90_50_Z4_MHI = [.12, .10, .08, .10, .08, .10, .08, .10, .08, .10,
                 .08, .08, .10, .08, .08, .10, .10, .15, 1.0, .12,
                 .08, .10, .08, .07, .10, .08, .07, .08, .10, .07,
                 .08, .10, .07, .08, .10, .07, .08, .12, .55, .12,
                 .08, .10, .07, .08, .10, .07, .08, .07, .08]

E90_50_Z7_G = [.20, .18, .20, .15, .12, .15, .18, .12, .15, .18,
               .12, .15, .12, .18, .15, .12, .15, .20, .70, .15,
               .18, .15, .12, .15, .10, .15, .12, .15, .12, .10,
               .15, .12, .18, .10, .12, .15, .10, .15, .80, .12,
               .10, .08, .10, .12, .08, .10, .12, .10, .08]
E90_50_Z7_GLO = [.10, .08, .10, .06, .04, .06, .08, .04, .06, .08,
                 .04, .06, .04, .08, .06, .04, .06, .10, .45, .06,
                 .08, .06, .04, .06, .03, .06, .04, .06, .04, .03,
                 .06, .04, .08, .03, .04, .06, .03, .06, .50, .04,
                 .03, .02, .03, .04, .02, .03, .04, .03, .02]
E90_50_Z7_GHI = [.30, .28, .30, .25, .22, .25, .30, .22, .25, .28,
                 .22, .25, .22, .28, .25, .22, .25, .30, .90, .25,
                 .30, .25, .22, .28, .20, .25, .22, .30, .22, .20,
                 .25, .22, .30, .20, .22, .28, .20, .25, 1.0, .22,
                 .20, .18, .20, .25, .18, .20, .22, .20, .18]
E90_50_Z7_M = [.10, .08, .06, .08, .05, .06, .05, .07, .06, .05,
               .06, .05, .07, .05, .06, .05, .06, .10, 1.0, .08,
               .06, .05, .06, .05, .04, .05, .06, .04, .05, .04,
               .05, .06, .04, .05, .04, .05, .04, .10, .55, .08,
               .04, .05, .04, .03, .04, .05, .04, .03, .04]
E90_50_Z7_MHI = [.12, .12, .10, .12, .08, .10, .08, .10, .10, .08,
                 .10, .08, .10, .08, .10, .08, .10, .15, 1.0, .12,
                 .10, .08, .10, .08, .07, .08, .10, .07, .08, .07,
                 .08, .10, .07, .08, .07, .08, .07, .12, .60, .12,
                 .07, .08, .07, .06, .07, .08, .07, .06, .07]

E90_50_Z10_G = [.20, .25, .20, .22, .18, .20, .15, .22, .18, .25,
                .20, .22, .28, .18, .22, .20, .15, .25, .68, .20,
                .22, .25, .18, .20, .28, .15, .20, .18, .15, .20,
                .22, .15, .18, .20, .15, .25, .18, .20, .70, .20,
                .15, .18, .15, .20, .12, .18, .15, .12, .15]
E90_50_Z10_GLO = [.08, .12, .08, .10, .06, .08, .05, .10, .06, .12,
                  .08, .10, .12, .06, .10, .08, .05, .10, .35, .08,
                  .10, .12, .06, .08, .12, .05, .08, .06, .05, .08,
                  .10, .05, .06, .08, .05, .12, .06, .08, .40, .08,
                  .05, .06, .05, .08, .04, .06, .05, .04, .05]
E90_50_Z10_GHI = [.30, .35, .30, .32, .28, .30, .25, .32, .28, .35,
                  .30, .32, .38, .28, .32, .30, .25, .35, 1.0, .30,
                  .32, .35, .28, .30, .50, .25, .30, .28, .25, .30,
                  .32, .25, .28, .30, .25, .35, .28, .30, 1.0, .30,
                  .25, .28, .25, .30, .22, .28, .25, .22, .25]
E90_50_Z10_M = [.06, .08, .06, .05, .06, .05, .06, .05, .06, .07,
                .05, .06, .05, .06, .05, .06, .05, .10, 1.0, .08,
                .06, .05, .06, .05, .06, .05, .04, .05, .06, .04,
                .05, .04, .05, .06, .04, .05, .04, .10, .60, .08,
                .05, .04, .05, .04, .03, .04, .05, .04, .03]
E90_50_Z10_MHI = [.12, .15, .12, .10, .12, .10, .12, .10, .12, .12,
                  .10, .12, .10, .12, .10, .12, .10, .15, 1.0, .15,
                  .12, .10, .12, .10, .12, .10, .08, .10, .12, .08,
                  .10, .08, .10, .12, .08, .10, .08, .15, .65, .12,
                  .10, .08, .10, .08, .07, .08, .10, .08, .07]

# ---------------- panel table (block, row, col) -> series ----------------
PANELS = {
    (0, 0, 0): (E00_5_Z1_G, E00_5_Z1_GLO, E00_5_Z1_GHI, E00_5_Z1_M, E00_5_Z1_MLO, E00_5_Z1_MHI),
    (0, 0, 1): (E00_5_Z4_G, E00_5_Z4_GLO, E00_5_Z4_GHI, E00_5_Z4_M, E00_5_Z4_MLO, E00_5_Z4_MHI),
    (0, 0, 2): (E00_5_Z7_G, E00_5_Z7_GLO, E00_5_Z7_GHI, E00_5_Z7_M, E00_5_Z7_MLO, E00_5_Z7_MHI),
    (0, 0, 3): (E00_5_Z10_G, E00_5_Z10_GLO, E00_5_Z10_GHI, E00_5_Z10_M, E00_5_Z10_MLO, E00_5_Z10_MHI),
    (0, 1, 0): (E00_10_Z1_G, E00_10_Z1_GLO, E00_10_Z1_GHI, E00_10_Z1_M, E00_10_Z1_MLO, E00_10_Z1_MHI),
    (0, 1, 1): (E00_10_Z4_G, E00_10_Z4_GLO, E00_10_Z4_GHI, E00_10_Z4_M, E00_10_Z4_MLO, E00_10_Z4_MHI),
    (0, 1, 2): (E00_10_Z7_G, E00_10_Z7_GLO, E00_10_Z7_GHI, E00_10_Z7_M, E00_10_Z7_MLO, E00_10_Z7_MHI),
    (0, 1, 3): (E00_10_Z10_G, E00_10_Z10_GLO, E00_10_Z10_GHI, E00_10_Z10_M, E00_10_Z10_MLO, E00_10_Z10_MHI),
    (0, 2, 0): (E00_50_Z1_G, E00_50_Z1_GLO, E00_50_Z1_GHI, E00_50_Z1_M, E00_50_Z1_MLO, E00_50_Z1_MHI),
    (0, 2, 1): (E00_50_Z4_G, E00_50_Z4_GLO, E00_50_Z4_GHI, E00_50_Z4_M, E00_50_Z4_MLO, E00_50_Z4_MHI),
    (0, 2, 2): (E00_50_Z7_G, E00_50_Z7_GLO, E00_50_Z7_GHI, E00_50_Z7_M, E00_50_Z7_MLO, E00_50_Z7_MHI),
    (0, 2, 3): (E00_50_Z10_G, E00_50_Z10_GLO, E00_50_Z10_GHI, E00_50_Z10_M, E00_50_Z10_MLO, E00_50_Z10_MHI),

    (1, 0, 0): (E45_5_Z1_G, E45_5_Z1_GLO, E45_5_Z1_GHI, E45_5_Z1_M, E45_5_Z1_MLO, E45_5_Z1_MHI),
    (1, 0, 1): (E45_5_Z4_G, E45_5_Z4_GLO, E45_5_Z4_GHI, E45_5_Z4_M, E45_5_Z4_MLO, E45_5_Z4_MHI),
    (1, 0, 2): (E45_5_Z7_G, E45_5_Z7_GLO, E45_5_Z7_GHI, E45_5_Z7_M, E45_5_Z7_MLO, E45_5_Z7_MHI),
    (1, 0, 3): (E45_5_Z10_G, E45_5_Z10_GLO, E45_5_Z10_GHI, E45_5_Z10_M, E45_5_Z10_MLO, E45_5_Z10_MHI),
    (1, 1, 0): (E45_10_Z1_G, E45_10_Z1_GLO, E45_10_Z1_GHI, E45_10_Z1_M, E45_10_Z1_MLO, E45_10_Z1_MHI),
    (1, 1, 1): (E45_10_Z4_G, E45_10_Z4_GLO, E45_10_Z4_GHI, E45_10_Z4_M, E45_10_Z4_MLO, E45_10_Z4_MHI),
    (1, 1, 2): (E45_10_Z7_G, E45_10_Z7_GLO, E45_10_Z7_GHI, E45_10_Z7_M, E45_10_Z7_MLO, E45_10_Z7_MHI),
    (1, 1, 3): (E45_10_Z10_G, E45_10_Z10_GLO, E45_10_Z10_GHI, E45_10_Z10_M, E45_10_Z10_MLO, E45_10_Z10_MHI),
    (1, 2, 0): (E45_50_Z1_G, E45_50_LO_G, E45_50_Z1_GHI, E45_50_Z1_M, E45_50_LO_M, E45_50_Z1_MHI),
    (1, 2, 1): (E45_50_Z4_G, E45_50_LO_G, E45_50_Z4_GHI, E45_50_Z4_M, E45_50_LO_M, E45_50_Z4_MHI),
    (1, 2, 2): (E45_50_Z7_G, E45_50_LO_G, E45_50_Z7_GHI, E45_50_Z7_M, E45_50_LO_M, E45_50_Z7_MHI),
    (1, 2, 3): (E45_50_Z10_G, E45_50_Z10_GLO, E45_50_Z10_GHI, E45_50_Z10_M, E45_50_LO_M, E45_50_Z10_MHI),

    (2, 0, 0): (E90_5_Z1_G, E90_5_Z1_GLO, E90_5_Z1_GHI, E90_5_Z1_M, E90_5_Z1_MLO, E90_5_Z1_MHI),
    (2, 0, 1): (E90_5_Z4_G, E90_5_Z4_GLO, E90_5_Z4_GHI, E90_5_Z4_M, E90_5_Z4_MLO, E90_5_Z4_MHI),
    (2, 0, 2): (E90_5_Z7_G, E90_5_Z7_GLO, E90_5_Z7_GHI, E90_5_Z7_M, E90_5_Z7_MLO, E90_5_Z7_MHI),
    (2, 0, 3): (E90_5_Z10_G, E90_5_Z10_GLO, E90_5_Z10_GHI, E90_5_Z10_M, E90_5_Z10_MLO, E90_5_Z10_MHI),
    (2, 1, 0): (E90_10_Z1_G, E90_10_Z1_GLO, E90_10_Z1_GHI, E90_10_Z1_M, E90_10_Z1_MLO, E90_10_Z1_MHI),
    (2, 1, 1): (E90_10_Z4_G, E90_10_Z4_GLO, E90_10_Z4_GHI, E90_10_Z4_M, E90_10_Z4_MLO, E90_10_Z4_MHI),
    (2, 1, 2): (E90_10_Z7_G, E90_10_Z7_GLO, E90_10_Z7_GHI, E90_10_Z7_M, E90_10_Z7_MLO, E90_10_Z7_MHI),
    (2, 1, 3): (E90_10_Z10_G, E90_10_Z10_GLO, E90_10_Z10_GHI, E90_10_Z10_M, E90_10_Z10_MLO, E90_10_Z10_MHI),
    (2, 2, 0): (E90_50_Z1_G, E90_50_LO_G, E90_50_Z1_GHI, E90_50_Z1_M, E90_50_LO_M, E90_50_Z1_MHI),
    (2, 2, 1): (E90_50_Z4_G, E90_50_LO_G, E90_50_Z4_GHI, E90_50_Z4_M, E90_50_LO_M, E90_50_Z4_MHI),
    (2, 2, 2): (E90_50_Z7_G, E90_50_Z7_GLO, E90_50_Z7_GHI, E90_50_Z7_M, E90_50_LO_M, E90_50_Z7_MHI),
    (2, 2, 3): (E90_50_Z10_G, E90_50_Z10_GLO, E90_50_Z10_GHI, E90_50_Z10_M, E90_50_LO_M, E90_50_Z10_MHI),
}
GRIDS = [F5, F10, F50]

# ---------------- style / layout constants ----------------
W, H = 723, 1365
FONT = "DejaVu Sans"
BLUE = "#3b87c3"
BLUE_BAND = "rgba(135,206,250,0.65)"
BROWN = "#a0522d"
TAN_BAND = "rgba(210,180,140,0.70)"

COL_X = [107.3, 262.6, 417.9, 573.2, 728.5]   # pixel edges of panel columns
BLOCK_TOP = [70.0, 530.5, 990.7]              # pixel top of each block
ROW_STEP = 103.1
ROW_H = 101.8
X_RANGE = [0.1, 2.5]
Y_RANGE = [-0.06, 1.152]


def px(x):
    return x / W


def py(y):
    return 1 - y / H


def trim(xs, ys):
    n = min(len(xs), len(ys))
    return list(xs[:n]), list(ys[:n])


fig = go.Figure()
layout = {}
annotations = []

for b in range(3):
    for r in range(3):
        top = BLOCK_TOP[b] + r * ROW_STEP
        bot = top + ROW_H
        for c in range(4):
            n = b * 12 + r * 4 + c + 1
            xname = "x" if n == 1 else f"x{n}"
            yname = "y" if n == 1 else f"y{n}"
            g, glo, ghi, m, mlo, mhi = PANELS[(b, r, c)]
            f = GRIDS[r]

            fx, hi_ = trim(f, ghi)
            fx, lo_ = trim(fx, glo)
            fig.add_trace(go.Scatter(
                x=fx + fx[::-1], y=hi_[:len(fx)] + lo_[::-1], fill="toself",
                fillcolor=BLUE_BAND, line=dict(width=0), mode="lines",
                hoverinfo="skip", showlegend=False, xaxis=xname, yaxis=yname))
            fx, hi_ = trim(f, mhi)
            fx, lo_ = trim(fx, mlo)
            fig.add_trace(go.Scatter(
                x=fx + fx[::-1], y=hi_[:len(fx)] + lo_[::-1], fill="toself",
                fillcolor=TAN_BAND, line=dict(width=0), mode="lines",
                hoverinfo="skip", showlegend=False, xaxis=xname, yaxis=yname))
            gx, gy = trim(f, g)
            fig.add_trace(go.Scatter(
                x=gx, y=gy, mode="lines", name="G",
                line=dict(color=BLUE, width=2.3),
                showlegend=(n == 1), legendrank=1,
                xaxis=xname, yaxis=yname))
            mx, my = trim(f, m)
            fig.add_trace(go.Scatter(
                x=mx, y=my, mode="lines", name="<i>Ṁ</i>",
                line=dict(color=BROWN, width=2.3, dash="dot"),
                showlegend=(n == 1), legendrank=2,
                xaxis=xname, yaxis=yname))

            x0, x1 = COL_X[c], min(COL_X[c + 1], W)
            xr = [X_RANGE[0], X_RANGE[0] + (x1 - x0) / (COL_X[c + 1] - COL_X[c]) * (X_RANGE[1] - X_RANGE[0])]
            layout["xaxis" if n == 1 else f"xaxis{n}"] = dict(
                domain=[px(x0), px(x1)], anchor=yname, range=xr,
                tickmode="array", tickvals=X_TICKS, ticktext=X_TICKTEXT,
                showticklabels=(r == 2), ticks="outside", ticklen=5, tickwidth=1.5,
                tickcolor="black", showline=True, linecolor="black", linewidth=2,
                mirror="ticks", showgrid=False, zeroline=False,
                ticklabelstandoff=-6,
                tickfont=dict(family=FONT, size=23, color="black"),
                automargin=False, fixedrange=True)
            layout["yaxis" if n == 1 else f"yaxis{n}"] = dict(
                domain=[py(bot), py(top)], anchor=xname, range=Y_RANGE,
                tickmode="array", tickvals=Y_TICKS, ticktext=Y_TICKTEXT,
                showticklabels=(c == 0), ticks=("outside" if c == 0 else ""),
                ticklen=5, tickwidth=1.5, tickcolor="black",
                showline=True, linecolor="black", linewidth=2,
                mirror=(c != 3), showgrid=False, zeroline=False,
                tickfont=dict(family=FONT, size=22, color="black"),
                automargin=False, fixedrange=True)

            if r == 0:
                annotations.append(dict(
                    text=COL_TITLES[c], x=px((COL_X[c] + COL_X[c + 1]) / 2),
                    y=py(top - 24), xref="paper", yref="paper", showarrow=False,
                    xanchor="center", yanchor="middle",
                    font=dict(family=FONT, size=24, color="black")))
            if r == 2:
                annotations.append(dict(
                    text="f/f<sub>K</sub>", x=px((COL_X[c] + COL_X[c + 1]) / 2),
                    y=py(bot + 47), xref="paper", yref="paper", showarrow=False,
                    xanchor="center", yanchor="middle",
                    font=dict(family=FONT, size=23, color="black")))
        annotations.append(dict(
            text=ROW_LABELS[r], x=px(42), y=py((top + bot) / 2 - 17),
            xref="paper", yref="paper", showarrow=False, align="center",
            xanchor="center", yanchor="middle",
            font=dict(family=FONT, size=23, color="black")))
    annotations.append(dict(
        text=BLOCK_TITLES[b], x=px((COL_X[0] + COL_X[4]) / 2),
        y=py(BLOCK_TOP[b] - 55), xref="paper", yref="paper", showarrow=False,
        xanchor="center", yanchor="middle",
        font=dict(family=FONT, size=24, color="black")))

fig.update_layout(
    width=W, height=H,
    margin=dict(l=0, r=0, t=0, b=0),
    paper_bgcolor="white", plot_bgcolor="white",
    font=dict(family=FONT, color="black"),
    annotations=annotations,
    legend=dict(x=px(254), y=py(77), xanchor="right", yanchor="top",
                bgcolor="rgba(255,255,255,0.8)", bordercolor="#cccccc",
                borderwidth=1, font=dict(family=FONT, size=16, color="black"),
                itemwidth=30, tracegroupgap=0),
    hovermode=False,
    **layout,
)

fig.write_html("out.html", include_plotlyjs=True,
               config={"displayModeBar": False, "staticPlot": True},
               post_script="document.body.style.margin='0';document.body.style.overflow='hidden';")
